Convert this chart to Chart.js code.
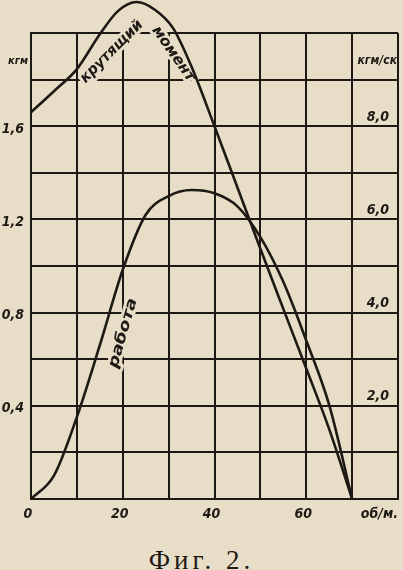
<!DOCTYPE html>
<html lang="ru">
<head>
  <meta charset="UTF-8" />
  <title>Фиг. 2</title>
  <style>
    body { margin: 0; background: #e8ddc7; width: 403px; height: 570px; overflow: hidden; }
    #wrap { position: absolute; left: 0; top: 0; width: 403px; height: 530px; }
    #caption { position: absolute; left: 0; width: 403px; top: 545px; text-align: center;
      font-family: "Liberation Serif", serif; font-size: 27px; letter-spacing: 4px; color: #1d1915; }
  </style>
</head>
<body>
  <div id="wrap"><canvas id="chart"></canvas></div>
  <div id="caption">Фиг. 2.</div>

  <script src="https://cdn.jsdelivr.net/npm/chart.js"></script>
  <script>
    // крутящий момент, кгм, по оборотам в минуту
    const torqueRpm = [0, 5, 10, 15, 19, 23, 27, 31, 35, 40, 45, 50, 55, 60, 65, 70];
    const torqueKgm = [1.66, 1.75, 1.845, 1.995, 2.095, 2.133, 2.1, 2.02, 1.855, 1.6, 1.337, 1.074, 0.816, 0.56, 0.3, 0];

    // работа, кгм/ск, по оборотам в минуту
    const workRpm = [0, 5, 10, 15, 20, 25, 30, 35, 40, 45, 50, 55, 60, 65, 70];
    const workKgms = [0, 0.5, 1.76, 3.3, 4.92, 6.1, 6.5, 6.63, 6.56, 6.28, 5.62, 4.66, 3.4, 2.02, 0];

    // подписи осей
    const xTicks = [0, 20, 40, 60];
    const xTickLabels = ["0", "20", "40", "60"];
    const leftTicks = [0.4, 0.8, 1.2, 1.6];
    const leftTickLabels = ["0,4", "0,8", "1,2", "1,6"];
    const rightTicks = [2, 4, 6, 8];
    const rightTickLabels = ["2,0", "4,0", "6,0", "8,0"];

    const ink = "#1d1915";
    const paper = "#e8ddc7";
    const tickFont = "italic bold 14px 'DejaVu Sans Condensed', 'DejaVu Sans', sans-serif";

    // подпись вдоль кривой: центр, угол, нужная длина
    function curveText(ctx, text, px, py, angle, len, size) {
      ctx.save();
      ctx.translate(px, py);
      ctx.rotate(angle * Math.PI / 180);
      ctx.font = "italic bold " + size + "px 'DejaVu Sans Condensed', 'DejaVu Sans', sans-serif";
      const w = ctx.measureText(text).width;
      ctx.scale(len / w, 1);
      ctx.textAlign = "center";
      ctx.textBaseline = "middle";
      ctx.lineWidth = 6;
      ctx.strokeStyle = paper;
      ctx.lineJoin = "round";
      ctx.strokeText(text, 0, 0);
      ctx.fillStyle = ink;
      ctx.fillText(text, 0, 0);
      ctx.restore();
    }

    const labelsPlugin = {
      id: "labels",
      beforeDatasetsDraw(chart) {
        const { ctx, scales: { x, y, y2 } } = chart;
        curveText(ctx, "крутящий", x.getPixelForValue(17.6), y.getPixelForValue(1.92), -45, 82, 15);
        curveText(ctx, "момент", x.getPixelForValue(31.0), y.getPixelForValue(1.91), 55, 64, 15);
        curveText(ctx, "работа", x.getPixelForValue(20.1), y2.getPixelForValue(3.56), -74, 72, 15);
      },
      afterDraw(chart) {
        const { ctx, scales: { x, y, y2 } } = chart;
        ctx.save();
        ctx.fillStyle = ink;
        ctx.font = tickFont;
        ctx.textBaseline = "middle";

        // левая ось
        ctx.textAlign = "right";
        leftTicks.forEach((v, i) => {
          ctx.fillText(leftTickLabels[i], x.left - 7, y.getPixelForValue(v) + 3);
        });
        ctx.font = "italic bold 11px 'DejaVu Sans Condensed', 'DejaVu Sans', sans-serif";
        ctx.fillText("кгм", x.left - 3, y.getPixelForValue(1.88));

        // правая ось
        ctx.font = tickFont;
        ctx.textBaseline = "bottom";
        rightTicks.forEach((v, i) => {
          ctx.fillText(rightTickLabels[i], x.right - 9, y2.getPixelForValue(v) - 2);
        });
        ctx.font = "italic bold 12px 'DejaVu Sans Condensed', 'DejaVu Sans', sans-serif";
        ctx.textBaseline = "middle";
        ctx.fillText("кгм/ск", x.right - 1, y2.getPixelForValue(9.4));

        // ось X
        ctx.font = tickFont;
        ctx.textAlign = "center";
        xTicks.forEach((v, i) => {
          ctx.fillText(xTickLabels[i], x.getPixelForValue(v) - 3, y.bottom + 15);
        });
        ctx.textAlign = "right";
        ctx.fillText("об/м.", x.right, y.bottom + 15);
        ctx.restore();
      }
    };

    const ctx = document.getElementById("chart").getContext("2d");
    new Chart(ctx, {
      type: "line",
      data: {
        datasets: [
          {
            label: "крутящий момент",
            data: torqueRpm.map((r, i) => ({ x: r, y: torqueKgm[i] })),
            yAxisID: "y",
            borderColor: ink, borderWidth: 2.6, pointRadius: 0,
            cubicInterpolationMode: "monotone", clip: false
          },
          {
            label: "работа",
            data: workRpm.map((r, i) => ({ x: r, y: workKgms[i] })),
            yAxisID: "y2",
            borderColor: ink, borderWidth: 2.6, pointRadius: 0,
            cubicInterpolationMode: "monotone", clip: false
          }
        ]
      },
      options: {
        responsive: true,
        maintainAspectRatio: false,
        animation: false,
        events: [],
        layout: { padding: { left: 31, right: 5, top: 33, bottom: 31 } },
        plugins: { legend: { display: false }, tooltip: { enabled: false } },
        scales: {
          x: {
            type: "linear", min: 0, max: 80,
            ticks: { display: false, stepSize: 10 },
            grid: { color: ink, lineWidth: 2, drawTicks: false },
            border: { color: ink, width: 2 }
          },
          y: {
            min: 0, max: 2.0,
            ticks: { display: false, stepSize: 0.2 },
            grid: { color: ink, lineWidth: 2, drawTicks: false },
            border: { color: ink, width: 2 }
          },
          y2: { display: false, min: 0, max: 10 }
        }
      },
      plugins: [labelsPlugin]
    });
  </script>
</body>
</html>
